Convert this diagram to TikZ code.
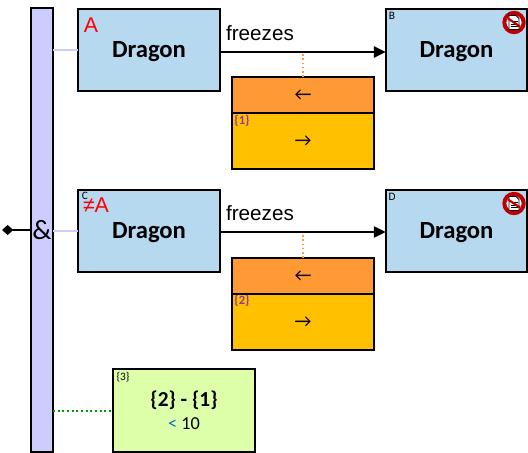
\documentclass[tikz,border=0pt]{standalone}
\usepackage{xcolor}
\usepackage{fontspec}
\setmainfont{Carlito}
\newfontfamily\arialfont{Liberation Sans}
\usetikzlibrary{arrows.meta}
\definecolor{barfill}{HTML}{CCCCFF}
\definecolor{dragonfill}{HTML}{B7D9F0}
\definecolor{lowfill}{HTML}{FF9933}
\definecolor{highfill}{HTML}{FFC000}
\definecolor{calcfill}{HTML}{DDFFAA}
\definecolor{tagpurple}{HTML}{9933AA}
\definecolor{opblue}{HTML}{0070C0}
\definecolor{stopred}{HTML}{C00000}
\definecolor{dotgreen}{HTML}{009900}
\tikzset{
  x=0.75pt, y=-0.75pt,
  frame/.style={draw=black, line width=1.6pt, inner sep=0pt, outer sep=0pt},
  dragonbox/.style={frame, fill=dragonfill, minimum width=106pt, minimum height=61.5pt, text depth=0pt,
    font=\fontsize{18.5}{20}\selectfont\bfseries},
  lowbox/.style={frame, fill=lowfill, minimum width=106.5pt, minimum height=27pt, text depth=0pt, font=\fontsize{14}{15}\selectfont},
  highbox/.style={frame, fill=highfill, minimum width=106.5pt, minimum height=42.5pt, text depth=0pt, font=\fontsize{14}{15}\selectfont},
  verb/.style={inner sep=0pt, font=\fontsize{15.5}{17}\selectfont\arialfont},
  tag/.style={inner sep=0pt, font=\fontsize{8.5}{9}\selectfont},
  purpletag/.style={tag, text=tagpurple, font=\fontsize{9.5}{10}\selectfont\bfseries},
  redmark/.style={inner sep=0pt, text=red, font=\fontsize{16}{18}\selectfont\arialfont},
  stopmark/.style={circle, draw=stopred, line width=3pt, fill=white, minimum size=14.5pt, inner sep=0pt},
  flow/.style={line width=1.5pt, -{Triangle[length=9pt,width=8.5pt]}},
  paleline/.style={barfill, line width=1.6pt},
}
\newcommand{\stopicon}[2]{
  \node[stopmark] (#1) at (#2) {};
  \fill[white, draw=black, line width=0.7pt] ([shift={(-5,-7)}]#1.center) -- ++(7,0) -- ++(3,3) -- ++(0,11) -- ++(-10,0) -- cycle;
  \foreach \rowy in {-1,1.5,4}
    \draw[black, line width=0.6pt] ([shift={(-3.5,\rowy)}]#1.center) -- ++(7,0);
  \draw[stopred, line width=1.6pt] ([shift={(-6,-4)}]#1.center) -- ([shift={(6,4)}]#1.center);
}
\begin{document}
\begin{tikzpicture}
  \useasboundingbox (0,0) rectangle (528,453);

  \node[frame, fill=barfill, minimum width=16.5pt, minimum height=333pt] (bar) at (42,230) {};
  \node[inner sep=0pt, font=\fontsize{21}{24}\selectfont] (amp) at (42,230) {\&};
  \coordinate (start) at (2,230);

  % first row
  \node[dragonbox] (dragonA) at (149,50) {Dragon};
  \node[dragonbox] (dragonB) at (456.5,50) {Dragon};
  \node[lowbox] (lowA) at (303,95) {←};
  \node[highbox] (highA) at (303,141) {→};
  \node[verb] (verbA) at (260,33) {freezes};
  \node[redmark] at (91,25) {A};
  \node[tag] at (392,15.5) {B};
  \node[purpletag] at (242,121) {\{1\}};
  \stopicon{stopB}{514,22.5}

  % second row
  \node[dragonbox] (dragonC) at (149,231) {Dragon};
  \node[dragonbox] (dragonD) at (456.5,231) {Dragon};
  \node[lowbox] (lowC) at (303,276) {←};
  \node[highbox] (highC) at (303,322) {→};
  \node[verb] (verbC) at (260,213) {freezes};
  \node[redmark] at (96,205) {≠A};
  \node[tag] at (85,196) {C};
  \node[tag] at (392,197) {D};
  \node[purpletag] at (242,301) {\{2\}};
  \stopicon{stopD}{514,203.5}

  % calculation
  \node[frame, fill=calcfill, minimum width=106.5pt, minimum height=62pt] (calc) at (184,410.5) {};
  \node[inner sep=0pt, font=\fontsize{16}{18}\selectfont\bfseries] (diff) at (184,400.5) {\{2\} - \{1\}};
  \node[inner sep=0pt, font=\fontsize{13.7}{15}\selectfont] (limit) at (184,424) {\textcolor{opblue}{<} 10};
  \node[tag] at (123,377) {\{3\}};

  % connectors
  \draw[paleline] (bar.east |- dragonA.west) -- (dragonA.west);
  \draw[paleline] (bar.east |- dragonC.west) -- (dragonC.west);
  \draw[dotgreen, line width=1.5pt, dotted] (bar.east |- calc.west) -- (calc.west);
  \draw[line width=1.5pt, {Diamond[length=8.5pt,width=7.5pt]}-] (start) -- (bar.west |- start);
  \draw[flow] ([yshift=-1.5pt]dragonA.east) -- ([yshift=-1.5pt]dragonB.west);
  \draw[flow] ([yshift=-0.75pt]dragonC.east) -- ([yshift=-0.75pt]dragonD.west);
  \draw[lowfill, line width=1.2pt, dotted] (lowA.north) -- ++(0,-25);
  \draw[lowfill, line width=1.2pt, dotted] (lowC.north) -- ++(0,-25);
\end{tikzpicture}
\end{document}
